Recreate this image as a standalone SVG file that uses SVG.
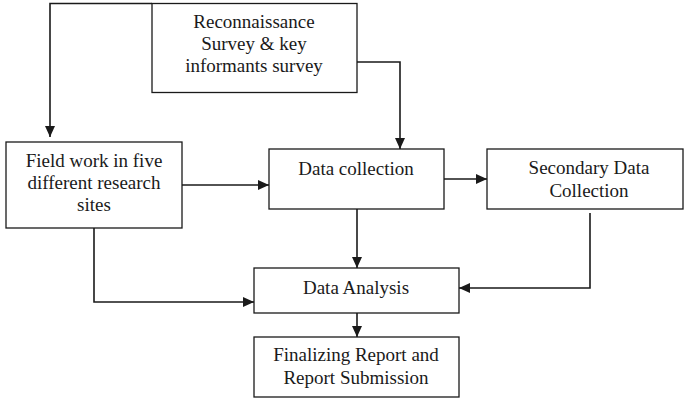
<svg xmlns="http://www.w3.org/2000/svg" width="685" height="398" viewBox="0 0 685 398">
<style>
.box{fill:#fff;stroke:#1a1a1a;stroke-width:1.3}
.t{font-family:"Liberation Serif","Times New Roman",serif;font-size:19px;fill:#1a1a1a;text-anchor:middle}
.c{fill:none;stroke:#1a1a1a;stroke-width:1.6}
</style>
<defs>
<marker id="ah" markerWidth="11" markerHeight="10" refX="11" refY="5" orient="auto" markerUnits="userSpaceOnUse">
<path d="M0,0 L11,5 L0,10 Z" fill="#1a1a1a"/>
</marker>
</defs>
<g id="connectors">
<path class="c" d="M152,3.5 H50 V137" marker-end="url(#ah)"/>
<path class="c" d="M357,62 H400 V149" marker-end="url(#ah)"/>
<path class="c" d="M182,185 H269" marker-end="url(#ah)"/>
<path class="c" d="M434,179 H487" marker-end="url(#ah)"/>
<path class="c" d="M357,209 V268" marker-end="url(#ah)"/>
<path class="c" d="M590,213 V288 H459" marker-end="url(#ah)"/>
<path class="c" d="M94,228 V302 H254" marker-end="url(#ah)"/>
<path class="c" d="M357,313 V337" marker-end="url(#ah)"/>
</g>
<g id="recon">
<rect class="box" x="152" y="3.5" width="205" height="89"/>
<text class="t" x="254" y="28">Reconnaissance</text>
<text class="t" x="254" y="50">Survey &amp; key</text>
<text class="t" x="254" y="72">informants survey</text>
</g>
<g id="fieldwork">
<rect class="box" x="6" y="142" width="176" height="86"/>
<text class="t" x="94" y="167">Field work in five</text>
<text class="t" x="94" y="189">different research</text>
<text class="t" x="94" y="211">sites</text>
</g>
<g id="datacollection">
<rect class="box" x="269" y="149" width="175" height="60"/>
<text class="t" x="356" y="175">Data collection</text>
</g>
<g id="secondary">
<rect class="box" x="487" y="149" width="196" height="60"/>
<text class="t" x="589" y="174">Secondary Data</text>
<text class="t" x="589" y="197">Collection</text>
</g>
<g id="analysis">
<rect class="box" x="254" y="268" width="205" height="45"/>
<text class="t" x="356" y="294">Data Analysis</text>
</g>
<g id="finalizing">
<rect class="box" x="254" y="337" width="205" height="60"/>
<text class="t" x="356" y="361">Finalizing Report and</text>
<text class="t" x="356" y="384">Report Submission</text>
</g>
</svg>
